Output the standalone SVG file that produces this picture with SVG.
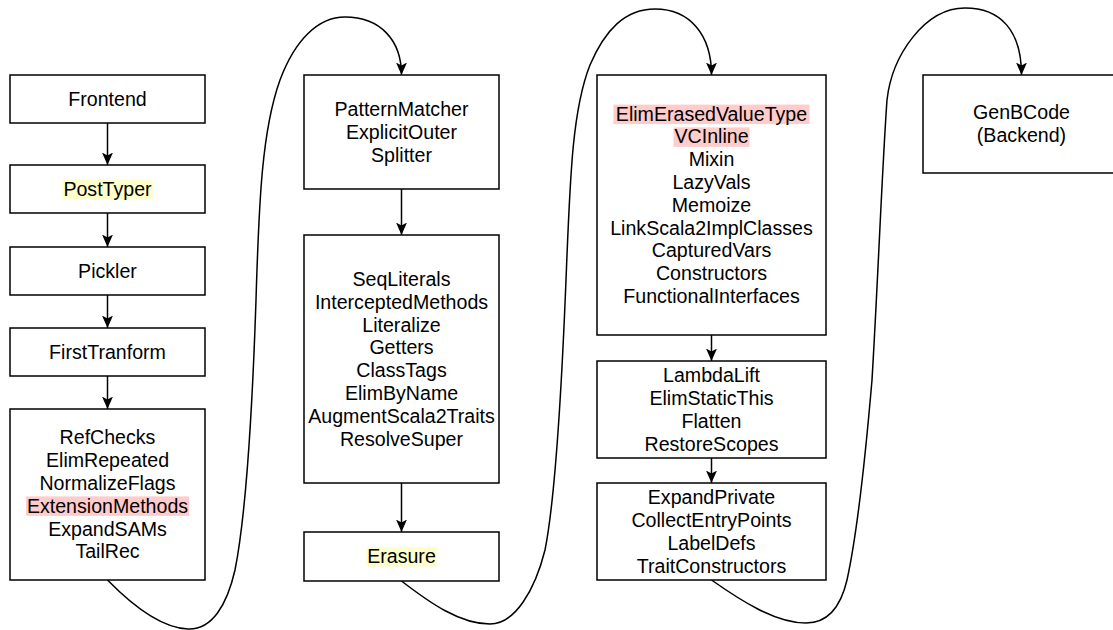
<svg xmlns="http://www.w3.org/2000/svg" width="1113" height="630" viewBox="0 0 1113 630">
<style>
.box{fill:#fff;stroke:#000;stroke-width:1.5}
.t{font-family:"Liberation Sans",Arial,sans-serif;font-size:19.6px;fill:#000;text-anchor:middle}
.hy{fill:#FFFFCC}
.hp{fill:#FFCCCC}
.e{fill:none;stroke:#000;stroke-width:1.5;marker-end:url(#arr)}
</style>
<defs>
<marker id="arr" markerUnits="userSpaceOnUse" markerWidth="13" markerHeight="12" viewBox="0 0 13 12" refX="12.5" refY="6" orient="auto">
<path d="M0,0.5 L12.5,6 L0,11.5 L3,6 Z" fill="#000"/>
</marker>
</defs>
<rect width="1113" height="630" fill="#fff"/>
<g id="connectors">
<path class="e" d="M107.5,123 V165"/>
<path class="e" d="M107.5,213 V247"/>
<path class="e" d="M107.5,295 V328"/>
<path class="e" d="M107.5,376 V409"/>
<path class="e" d="M401.5,189 V235"/>
<path class="e" d="M401.5,483 V532"/>
<path class="e" d="M711.5,335 V361"/>
<path class="e" d="M711.5,458 V483"/>
<path class="e" d="M107.5,580 C130,603 160,628 188,629 C212,630 227,605 235,570 C245,520 252,420 256,300 C259,200 262,130 280,80 C295,40 318,17 345,17 C380,17 401.5,40 401.5,75"/>
<path class="e" d="M401.5,581 C430,603 460,624 490,624 C515,624 535,590 545,550 C555,500 562,380 566,280 C570,180 572,110 590,65 C605,30 625,9 655,9 C690,9 711.5,35 711.5,75"/>
<path class="e" d="M711.5,580 C740,600 775,623 806,623 C825,623 840,610 847,580 C858,530 866,450 872,380 C878,280 882,170 887,100 C892,55 925,8 965,8 C1000,8 1021.5,30 1021.5,75"/>
</g>
<g id="frontend">
<rect class="box" x="10" y="75" width="195" height="48"/>
<text class="t" x="107.5" y="106">Frontend</text>
</g>
<g id="posttyper">
<rect class="box" x="10" y="165" width="195" height="48"/>
<rect class="hy" x="62.25" y="179.5" width="90.5" height="19.5"/>
<text class="t" x="107.5" y="196">PostTyper</text>
</g>
<g id="pickler">
<rect class="box" x="10" y="247" width="195" height="48"/>
<text class="t" x="107.5" y="278">Pickler</text>
</g>
<g id="firsttransform">
<rect class="box" x="10" y="328" width="195" height="48"/>
<text class="t" x="107.5" y="359">FirstTranform</text>
</g>
<g id="refchecks">
<rect class="box" x="10" y="409" width="195" height="171"/>
<rect class="hp" x="26" y="496.4" width="163" height="19.5"/>
<text class="t" x="107.5" y="444.3">RefChecks<tspan x="107.5" dy="22.8">ElimRepeated</tspan><tspan x="107.5" dy="22.8">NormalizeFlags</tspan><tspan x="107.5" dy="22.8">ExtensionMethods</tspan><tspan x="107.5" dy="22.8">ExpandSAMs</tspan><tspan x="107.5" dy="22.8">TailRec</tspan></text>
</g>
<g id="patternmatcher">
<rect class="box" x="304" y="75" width="195" height="114"/>
<text class="t" x="401.5" y="116">PatternMatcher<tspan x="401.5" dy="22.8">ExplicitOuter</tspan><tspan x="401.5" dy="22.8">Splitter</tspan></text>
</g>
<g id="seqliterals">
<rect class="box" x="304" y="235" width="195" height="248"/>
<text class="t" x="401.5" y="286">SeqLiterals<tspan x="401.5" dy="22.8">InterceptedMethods</tspan><tspan x="401.5" dy="22.8">Literalize</tspan><tspan x="401.5" dy="22.8">Getters</tspan><tspan x="401.5" dy="22.8">ClassTags</tspan><tspan x="401.5" dy="22.8">ElimByName</tspan><tspan x="401.5" dy="22.8">AugmentScala2Traits</tspan><tspan x="401.5" dy="22.8">ResolveSuper</tspan></text>
</g>
<g id="erasure">
<rect class="box" x="304" y="532" width="195" height="49"/>
<rect class="hy" x="366.25" y="547" width="70.5" height="19.5"/>
<text class="t" x="401.5" y="563.3">Erasure</text>
</g>
<g id="elimerasedvaluetype">
<rect class="box" x="597" y="75" width="229" height="260"/>
<rect class="hp" x="613.5" y="104.6" width="196" height="19.5"/>
<rect class="hp" x="673.5" y="127.4" width="76" height="19.5"/>
<text class="t" x="711.5" y="120.6">ElimErasedValueType<tspan x="711.5" dy="22.8">VCInline</tspan><tspan x="711.5" dy="22.8">Mixin</tspan><tspan x="711.5" dy="22.8">LazyVals</tspan><tspan x="711.5" dy="22.8">Memoize</tspan><tspan x="711.5" dy="22.8">LinkScala2ImplClasses</tspan><tspan x="711.5" dy="22.8">CapturedVars</tspan><tspan x="711.5" dy="22.8">Constructors</tspan><tspan x="711.5" dy="22.8">FunctionalInterfaces</tspan></text>
</g>
<g id="lambdalift">
<rect class="box" x="597" y="361" width="229" height="97"/>
<text class="t" x="711.5" y="382.1">LambdaLift<tspan x="711.5" dy="22.8">ElimStaticThis</tspan><tspan x="711.5" dy="22.8">Flatten</tspan><tspan x="711.5" dy="22.8">RestoreScopes</tspan></text>
</g>
<g id="expandprivate">
<rect class="box" x="597" y="483" width="229" height="97"/>
<text class="t" x="711.5" y="504.1">ExpandPrivate<tspan x="711.5" dy="22.8">CollectEntryPoints</tspan><tspan x="711.5" dy="22.8">LabelDefs</tspan><tspan x="711.5" dy="22.8">TraitConstructors</tspan></text>
</g>
<g id="genbcode">
<rect class="box" x="923" y="75" width="197" height="98"/>
<text class="t" x="1021.5" y="119.4">GenBCode<tspan x="1021.5" dy="22.8">(Backend)</tspan></text>
</g>
</svg>
